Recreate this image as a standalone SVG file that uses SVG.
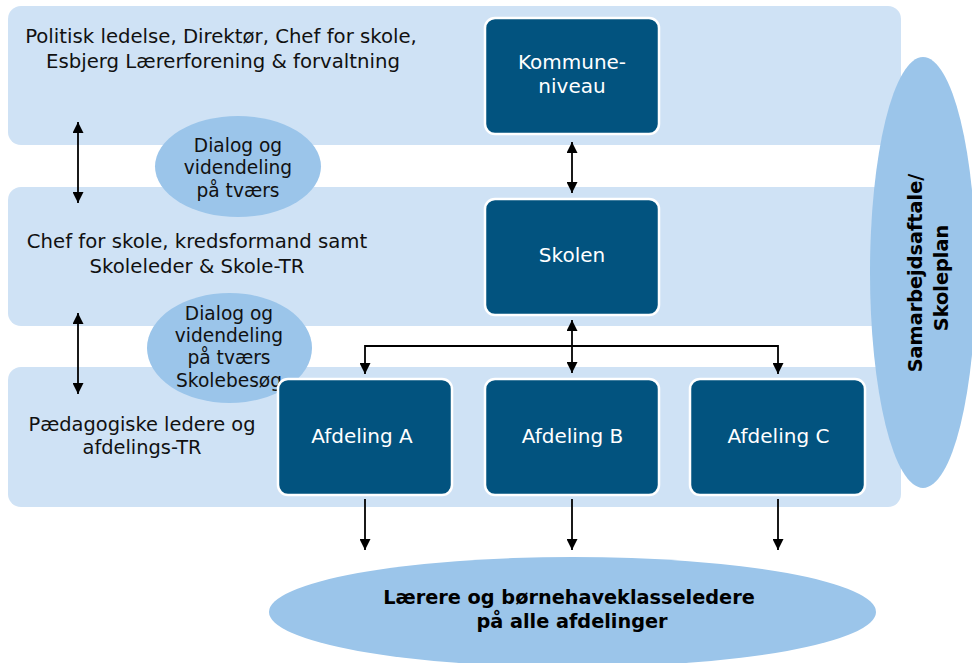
<svg xmlns="http://www.w3.org/2000/svg" width="972" height="663" viewBox="0 0 972 663">
<defs>
<marker id="ah" viewBox="0 0 10 10" refX="10" refY="5" markerWidth="11" markerHeight="11" markerUnits="userSpaceOnUse" orient="auto-start-reverse">
<path d="M0,0 L10,5 L0,10 z" fill="#000"/>
</marker>
<style>
.band{fill:#cfe2f5}
.box{fill:#02537f;stroke:#fff;stroke-width:2.5}
.ell{fill:#9bc5ea}
.t{font-family:"DejaVu Sans","Liberation Sans",sans-serif;font-size:19.7px;fill:#111;text-anchor:middle}
.d{font-size:18.6px}
.w{fill:#fff;font-size:20px}
.b{font-family:"DejaVu Sans","Liberation Sans",sans-serif;font-weight:bold;font-size:19.3px;fill:#000;text-anchor:middle}
.c{stroke:#000;stroke-width:1.8;fill:none}
</style>
</defs>
<g id="bands">
<rect class="band" x="8" y="6" width="893" height="139" rx="13"/>
<rect class="band" x="8" y="187" width="893" height="139" rx="13"/>
<rect class="band" x="8" y="367" width="893" height="140" rx="13"/>
</g>
<g id="level1-label">
<text class="t" x="221" y="43">Politisk ledelse, Direktør, Chef for skole,</text>
<text class="t" x="223" y="68">Esbjerg Lærerforening &amp; forvaltning</text>
</g>
<g id="level2-label">
<text class="t" x="197" y="248">Chef for skole, kredsformand samt</text>
<text class="t" x="197" y="273">Skoleleder &amp; Skole-TR</text>
</g>
<g id="level3-label">
<text class="t" x="142" y="431" style="font-size:19.4px">Pædagogiske ledere og</text>
<text class="t" x="142" y="454" style="font-size:19.4px">afdelings-TR</text>
</g>
<g id="samarbejdsaftale">
<ellipse class="ell" cx="923" cy="272.5" rx="53" ry="215.5"/>
<text class="b" transform="translate(922,273) rotate(-90)">Samarbejdsaftale/</text>
<text class="b" transform="translate(948,278) rotate(-90)">Skoleplan</text>
</g>
<g id="dialog1">
<ellipse class="ell" cx="238" cy="166.5" rx="83" ry="50.5"/>
<text class="t d" x="238" y="152">Dialog og</text>
<text class="t d" x="238" y="174">videndeling</text>
<text class="t d" x="238" y="197">på tværs</text>
</g>
<g id="dialog2">
<ellipse class="ell" cx="229.5" cy="348" rx="82.5" ry="55"/>
<text class="t d" x="229" y="320">Dialog og</text>
<text class="t d" x="229" y="342">videndeling</text>
<text class="t d" x="229" y="364">på tværs</text>
<text class="t d" x="229" y="387">Skolebesøg</text>
</g>
<g id="kommune">
<rect class="box" x="485" y="18" width="174" height="116" rx="10"/>
<text class="t w" x="572" y="69">Kommune-</text>
<text class="t w" x="572" y="93">niveau</text>
</g>
<g id="skolen">
<rect class="box" x="485" y="199" width="174" height="116" rx="10"/>
<text class="t w" x="572" y="262">Skolen</text>
</g>
<g id="afdelingA">
<rect class="box" x="278" y="379" width="174" height="116" rx="10"/>
<text class="t w" x="362" y="443">Afdeling A</text>
</g>
<g id="afdelingB">
<rect class="box" x="485" y="379" width="174" height="116" rx="10"/>
<text class="t w" x="572.5" y="443">Afdeling B</text>
</g>
<g id="afdelingC">
<rect class="box" x="690" y="379" width="175" height="116" rx="10"/>
<text class="t w" x="778.5" y="443">Afdeling C</text>
</g>
<g id="laerere">
<ellipse class="ell" cx="572.5" cy="612" rx="303.5" ry="55"/>
<text class="b" x="569" y="604">Lærere og børnehaveklasseledere</text>
<text class="b" x="572" y="628">på alle afdelinger</text>
</g>
<g id="connectors">
<line class="c" x1="78" y1="122" x2="78" y2="203" marker-start="url(#ah)" marker-end="url(#ah)"/>
<line class="c" x1="78" y1="313" x2="78" y2="394" marker-start="url(#ah)" marker-end="url(#ah)"/>
<line class="c" x1="572" y1="142" x2="572" y2="193" marker-start="url(#ah)" marker-end="url(#ah)"/>
<line class="c" x1="572" y1="320" x2="572" y2="373" marker-start="url(#ah)" marker-end="url(#ah)"/>
<path class="c" d="M572,346 H365 V374" marker-end="url(#ah)"/>
<path class="c" d="M572,346 H778 V374" marker-end="url(#ah)"/>
<line class="c" x1="365" y1="499" x2="365" y2="550" marker-end="url(#ah)"/>
<line class="c" x1="572" y1="499" x2="572" y2="550" marker-end="url(#ah)"/>
<line class="c" x1="778" y1="499" x2="778" y2="550" marker-end="url(#ah)"/>
</g>
</svg>
